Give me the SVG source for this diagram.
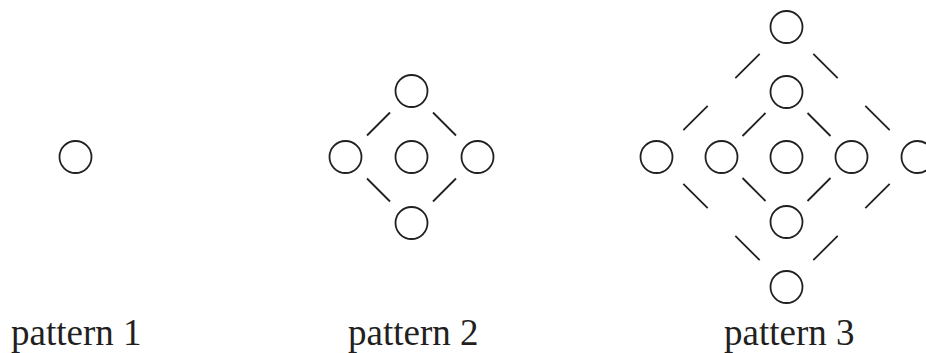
<svg xmlns="http://www.w3.org/2000/svg" width="926" height="353" viewBox="0 0 926 353">
  <style>
    .n { fill: none; stroke: #231f20; stroke-width: 1.8; }
    .c line { stroke: #231f20; stroke-width: 1.8; }
    .t { font-family: "Liberation Serif", "Times New Roman", serif; font-size: 37px; fill: #231f20; }
  </style>
  <rect width="926" height="353" fill="#ffffff"/>
  <g id="connectors" class="c">
    <line x1="390" y1="112.5" x2="367" y2="135.5"/>
    <line x1="433" y1="112.5" x2="456" y2="135.5"/>
    <line x1="367" y1="178.5" x2="390" y2="201.5"/>
    <line x1="456" y1="178.5" x2="433" y2="201.5"/>
    <line x1="759.7" y1="53.8" x2="735.3" y2="78.2"/>
    <line x1="707.7" y1="105.8" x2="683.3" y2="130.2"/>
    <line x1="813.3" y1="53.8" x2="837.7" y2="78.2"/>
    <line x1="865.3" y1="105.8" x2="889.7" y2="130.2"/>
    <line x1="683.3" y1="183.8" x2="707.7" y2="208.2"/>
    <line x1="735.3" y1="235.8" x2="759.7" y2="260.2"/>
    <line x1="889.7" y1="183.8" x2="865.3" y2="208.2"/>
    <line x1="837.7" y1="235.8" x2="813.3" y2="260.2"/>
    <line x1="765.5" y1="113" x2="742.5" y2="136"/>
    <line x1="807.5" y1="113" x2="830.5" y2="136"/>
    <line x1="742.5" y1="178" x2="765.5" y2="201"/>
    <line x1="830.5" y1="178" x2="807.5" y2="201"/>
  </g>
  <g id="p1-node"><circle class="n" cx="75.5" cy="157" r="16"/></g>
  <g id="p2-top"><circle class="n" cx="411.5" cy="91" r="16"/></g>
  <g id="p2-left"><circle class="n" cx="345.5" cy="157" r="16"/></g>
  <g id="p2-center"><circle class="n" cx="411.5" cy="157" r="16"/></g>
  <g id="p2-right"><circle class="n" cx="477.5" cy="157" r="16"/></g>
  <g id="p2-bottom"><circle class="n" cx="411.5" cy="223" r="16"/></g>
  <g id="p3-top"><circle class="n" cx="786.5" cy="27" r="16"/></g>
  <g id="p3-upper"><circle class="n" cx="786.5" cy="92" r="16"/></g>
  <g id="p3-farleft"><circle class="n" cx="656.5" cy="157" r="16"/></g>
  <g id="p3-left"><circle class="n" cx="721.5" cy="157" r="16"/></g>
  <g id="p3-center"><circle class="n" cx="786.5" cy="157" r="16"/></g>
  <g id="p3-right"><circle class="n" cx="851.5" cy="157" r="16"/></g>
  <g id="p3-farright"><circle class="n" cx="917.5" cy="157" r="16"/></g>
  <g id="p3-lower"><circle class="n" cx="786.5" cy="222" r="16"/></g>
  <g id="p3-bottom"><circle class="n" cx="786.5" cy="287" r="16"/></g>
  <g id="labels">
    <text class="t" x="11" y="345">pattern 1</text>
    <text class="t" x="348" y="345">pattern 2</text>
    <text class="t" x="724" y="345">pattern 3</text>
  </g>
</svg>
